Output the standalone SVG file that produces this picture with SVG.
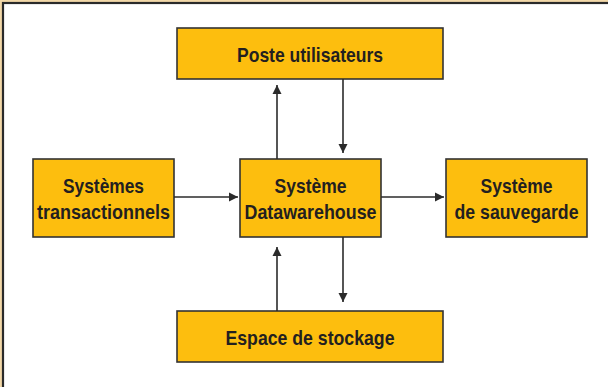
<svg xmlns="http://www.w3.org/2000/svg" width="608" height="387" viewBox="0 0 608 387">
<defs>
<marker id="ah" markerWidth="10" markerHeight="10" refX="9" refY="5" orient="auto" markerUnits="userSpaceOnUse">
<path d="M0,0.5 L9,5 L0,9.5 Z" fill="#2b2b2b"/>
</marker>
<style>
.box{fill:#FDBE0E;stroke:#333333;stroke-width:1.6}
.lbl{font-family:"Liberation Sans",Arial,sans-serif;font-weight:bold;font-size:21px;fill:#231f20;text-anchor:middle}
.con{stroke:#2b2b2b;stroke-width:1.6;fill:none;marker-end:url(#ah)}
</style>
</defs>
<rect x="0" y="0" width="608" height="387" fill="#F3D9A9"/>
<rect x="3" y="3" width="620" height="400" fill="#ffffff" stroke="#2a2a2a" stroke-width="2.2"/>
<g id="poste">
<rect class="box" x="177" y="28" width="266" height="51"/>
<text class="lbl" x="310" y="62" textLength="146" lengthAdjust="spacingAndGlyphs">Poste utilisateurs</text>
</g>
<g id="transactionnels">
<rect class="box" x="33" y="159" width="141" height="78"/>
<text class="lbl" x="103.5" y="193" textLength="81" lengthAdjust="spacingAndGlyphs">Systèmes</text>
<text class="lbl" x="103.5" y="219" textLength="133" lengthAdjust="spacingAndGlyphs">transactionnels</text>
</g>
<g id="datawarehouse">
<rect class="box" x="240" y="159" width="141" height="78"/>
<text class="lbl" x="310.5" y="193" textLength="72" lengthAdjust="spacingAndGlyphs">Système</text>
<text class="lbl" x="310.5" y="219" textLength="132" lengthAdjust="spacingAndGlyphs">Datawarehouse</text>
</g>
<g id="sauvegarde">
<rect class="box" x="446" y="159" width="141" height="78"/>
<text class="lbl" x="516.5" y="193" textLength="72" lengthAdjust="spacingAndGlyphs">Système</text>
<text class="lbl" x="516.5" y="219" textLength="124" lengthAdjust="spacingAndGlyphs">de sauvegarde</text>
</g>
<g id="stockage">
<rect class="box" x="177" y="311" width="266" height="51"/>
<text class="lbl" x="310" y="345" textLength="169" lengthAdjust="spacingAndGlyphs">Espace de stockage</text>
</g>
<g id="connectors">
<line class="con" x1="277" y1="159" x2="277" y2="85"/>
<line class="con" x1="343" y1="79" x2="343" y2="153"/>
<line class="con" x1="174" y1="197" x2="238" y2="197"/>
<line class="con" x1="381" y1="197" x2="444" y2="197"/>
<line class="con" x1="343" y1="237" x2="343" y2="302"/>
<line class="con" x1="277" y1="311" x2="277" y2="247"/>
</g>
</svg>
